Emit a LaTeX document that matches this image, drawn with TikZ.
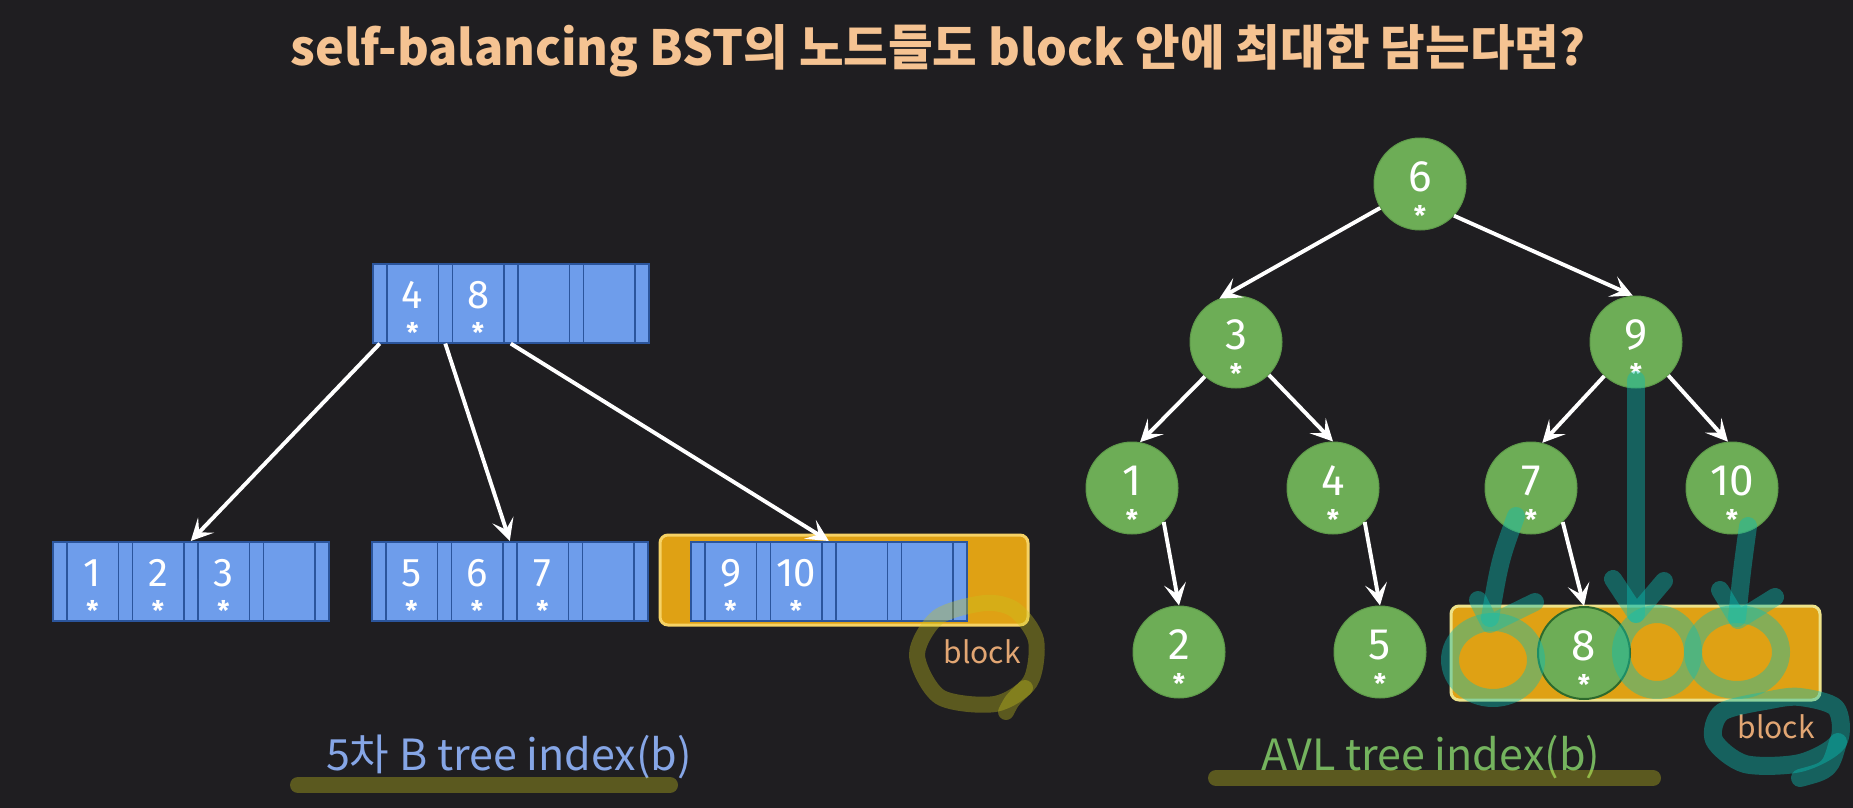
\documentclass[tikz,border=0pt]{standalone}
\usepackage{fontspec}
\usetikzlibrary{arrows.meta,calc}
\newfontfamily\krfont{Noto Sans CJK KR}
\newfontfamily\digfont{Fira Sans}
\definecolor{bg}{HTML}{1F1E21}
\definecolor{titlec}{HTML}{F5C392}
\definecolor{cellfill}{HTML}{6E9DEB}
\definecolor{celldraw}{HTML}{2B559C}
\definecolor{avlfill}{HTML}{6DAD56}
\definecolor{avldraw}{HTML}{5E9A4A}
\definecolor{avldark}{HTML}{2D6A2D}
\definecolor{blockfill}{HTML}{DFA114}
\definecolor{blockdraw}{HTML}{F6D265}
\definecolor{blockdrawb}{HTML}{EDE28A}
\definecolor{blocktxt}{HTML}{E2A673}
\definecolor{bluelab}{HTML}{86A6E6}
\definecolor{greenlab}{HTML}{74B35E}
\definecolor{olivec}{HTML}{C8C31E}
\definecolor{tealc}{HTML}{0ABEB4}

\newcommand\btnode[3]{%
  \foreach \i in {0,...,4} {
    \node[ptrcell] (#1-p\i) at ({#2+\i*65.5},#3) {};
  }
  \foreach \i in {1,...,4} {
    \node[keycell] (#1-k\i) at ({#2+14+(\i-1)*65.5},#3) {};
  }
}
\newcommand\bkey[2]{%
  \node[bdigit] (#1-d) at ([yshift=8pt]#1.center) {#2};
  \node[ast] (#1-s) at ([yshift=11pt]#1.south) {*};
}
\newcommand\avlnode[5][]{%
  \node[avl,#1] (#2) at (#3,#4) {};
  \node[adigit] (#2-d) at ([yshift=7pt]#2.center) {#5};
  \node[ast] (#2-s) at ([yshift=-31pt]#2.center) {*};
}

\begin{document}
\begin{tikzpicture}[x=1pt,y=-1pt,
  ptrcell/.style={draw=celldraw, fill=cellfill, line width=1.6pt, minimum width=14pt, minimum height=79pt, inner sep=0pt, anchor=north west},
  keycell/.style={ptrcell, minimum width=51.5pt},
  bdigit/.style={text=white, font=\digfont\fontsize{40}{40}\selectfont, inner sep=0pt},
  adigit/.style={text=white, font=\digfont\fontsize{44}{44}\selectfont, inner sep=0pt},
  ast/.style={text=white, font=\digfont\bfseries\fontsize{27}{27}\selectfont, inner sep=0pt},
  avl/.style={circle, fill=avlfill, draw=avldraw, line width=1pt, minimum size=92pt, inner sep=0pt},
  edge/.style={draw=white, line width=3.9pt, -{Stealth[length=22pt,width=22pt,inset=10pt]}},
  blockbox/.style={fill=blockfill, draw=blockdraw, line width=3pt, rounded corners=8pt, inner sep=0pt},
  blocklab/.style={text=blocktxt, font=\krfont\fontsize{30}{30}\selectfont, inner sep=0pt, anchor=base},
  olivepen/.style={draw=olivec, draw opacity=0.36, line width=16pt, line cap=round, line join=round},
  tealpen/.style={draw=tealc, draw opacity=0.42, line width=18pt, line cap=round, line join=round},
  labfont/.style={font=\krfont\fontsize{43}{43}\selectfont, anchor=base, inner sep=0pt},
]
\fill[bg] (0,0) rectangle (1853,808);
\useasboundingbox (0,0) rectangle (1853,808);

% title
\node[text=titlec, font=\krfont\bfseries\fontsize{48.5}{48.5}\selectfont, anchor=base, inner sep=0pt] (title) at (938,66) {self-balancing BST의 노드들도 block 안에 최대한 담는다면?};

% ---------- B tree ----------
\node[blockbox, minimum width=368pt, minimum height=90pt] (blkA) at (844,580) {};
\btnode{r}{372}{263}
\btnode{la}{52}{541}
\btnode{lb}{371}{541}
\btnode{lc}{690}{541}
\bkey{r-k1}{4}\bkey{r-k2}{8}
\bkey{la-k1}{1}\bkey{la-k2}{2}\bkey{la-k3}{3}
\bkey{lb-k1}{5}\bkey{lb-k2}{6}\bkey{lb-k3}{7}
\bkey{lc-k1}{9}\bkey{lc-k2}{10}
\draw[edge] (r-p0.south) -- (la-p2.north);
\draw[edge] (r-p1.south) -- (lb-p2.north);
\draw[edge] (r-p2.south) -- (lc-p2.north);
\node[blocklab] (blkAlab) at (982,663) {block};
\draw[olivepen] plot[smooth cycle] coordinates {(985,603) (938,617) (917,655) (940,697) (995,704) (1030,682) (1036,640) (1015,610)};
\draw[olivepen] (1025,688) .. controls (1012,700) .. (1006,712);

\node[text=bluelab, labfont] (lblA) at (509,770) {5차 B tree index(b)};
\draw[olivepen] (298,785) -- (670,785);

% ---------- AVL tree ----------
\avlnode{a6}{1420}{184}{6}
\avlnode{a3}{1236}{342}{3}
\avlnode{a9}{1636}{342}{9}
\avlnode{a1}{1132}{488}{1}
\avlnode{a4}{1333}{488}{4}
\avlnode{a7}{1531}{488}{7}
\avlnode{a10}{1732}{488}{10}
\avlnode{a2}{1179}{652}{2}
\avlnode{a5}{1380}{652}{5}
\node[blockbox, draw=blockdrawb, minimum width=369pt, minimum height=94pt] (blkB) at (1635.5,653) {};
\avlnode[draw=avldark, line width=2pt]{a8}{1584}{653}{8}

\draw[edge] (a6.-149) -- (a3.111);
\draw[edge] (a6.-43) -- (a9.94);
\draw[edge] (a3.-132) -- (a1.80);
\draw[edge] (a3.-45) -- (a4.90);
\draw[edge] (a9.-133) -- (a7.76);
\draw[edge] (a9.-46) -- (a10.95);
\draw[edge] (a1.-47) -- (a2.90);
\draw[edge] (a4.-47) -- (a5.90);
\draw[edge] (a7.-47) -- (a8.90);

\node[blocklab] (blkBlab) at (1776,738) {block};
\node[text=greenlab, labfont] (lblB) at (1431,770) {AVL tree index(b)};
\draw[olivepen] (1216,778) -- (1653,778);

% teal annotations
\draw[tealpen] (1636,380) -- (1636,614);
\draw[tealpen] (1613,579) -- (1636,614) -- (1664,581);
\draw[tealpen] (1516,516) .. controls (1500,560) .. (1490,618);
\draw[tealpen] (1478,600) -- (1490,624) -- (1535,602);
\draw[tealpen] (1748,526) .. controls (1742,570) .. (1737,618);
\draw[tealpen] (1720,590) -- (1738,620) -- (1775,597);
\draw[tealpen] (1493,660) ellipse [x radius=43, y radius=38];
\draw[tealpen] (1657,652) ellipse [x radius=36, y radius=38];
\draw[tealpen] (1737,652) ellipse [x radius=44, y radius=38];
\draw[tealpen] plot[smooth cycle] coordinates {(1770,700) (1722,712) (1714,740) (1745,764) (1800,763) (1838,742) (1836,708) (1800,697)};
\draw[tealpen] (1838,742) .. controls (1830,770) .. (1800,778);
\end{tikzpicture}
\end{document}
